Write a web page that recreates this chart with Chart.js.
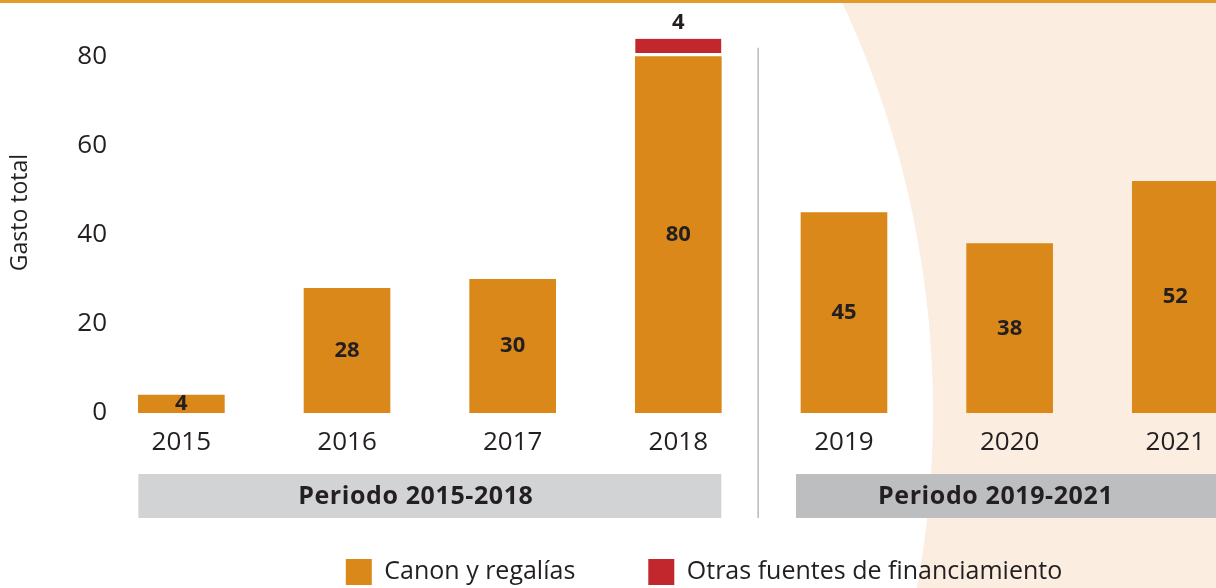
<!DOCTYPE html>
<html>
<head>
<meta charset="utf-8">
<script src="https://cdn.jsdelivr.net/npm/chart.js@4.4.1/dist/chart.umd.min.js"></script>
<style>
  html, body { margin: 0; padding: 0; background: #fff; overflow: hidden; }
  #wrap { width: 1290px; height: 595px; }
</style>
</head>
<body>
<div id="wrap"><canvas id="gasto" width="1290" height="595"></canvas></div>
<script>
var years = ["2015", "2016", "2017", "2018", "2019", "2020", "2021"];
var canon = [4, 28, 30, 80, 45, 38, 52];
var otras = [null, null, null, 4, null, null, null];
var yTicks = [0, 20, 40, 60, 80];
var periodos = [
    { label: "Periodo 2015-2018", from: 0, to: 3 },
    { label: "Periodo 2019-2021", from: 4, to: 6 }
];

Chart.defaults.font.family = "'Open Sans', sans-serif";
Chart.defaults.color = "#231f20";

// fondo, franjas de periodo y linea separadora
var fondo = {
    id: "fondo",
    beforeDraw: function (chart) {
        var c = chart.ctx, x = chart.scales.x, y = chart.scales.y, area = chart.chartArea;
        c.save();
        c.fillStyle = "#fbeee1";
        c.fillRect(0, 0, chart.width, chart.height);
        c.fillStyle = "#ffffff";
        c.beginPath();
        c.arc(-36, 412, 969, 0, Math.PI * 2);
        c.fill();
        c.fillStyle = "#e39a2d";
        c.fillRect(0, 0, chart.width, 3);

        var top = area.bottom + 61;
        c.font = "bold 25px 'Open Sans'";
        c.letterSpacing = "0.6px";
        c.textAlign = "center";
        c.textBaseline = "middle";
        periodos.forEach(function (p, k) {
            var l = x.getPixelForValue(p.from) - (k ? 48 : 43);
            var r = x.getPixelForValue(p.to) + (k ? 60 : 43);
            c.fillStyle = k ? "#bcbec0" : "#d1d3d4";
            c.fillRect(l, top, r - l, 44);
            c.fillStyle = "#231f20";
            var mid = (x.getPixelForValue(p.from) + x.getPixelForValue(p.to)) / 2 - 14;
            c.fillText(p.label, mid, top + 23);
        });
        c.letterSpacing = "0px";

        var sx = (x.getPixelForValue(3) + x.getPixelForValue(4)) / 2 - 3;
        c.strokeStyle = "#b8b9bb";
        c.lineWidth = 1.5;
        c.beginPath();
        c.moveTo(sx, y.getPixelForValue(82));
        c.lineTo(sx, top + 44);
        c.stroke();
        c.restore();
    }
};

// valores sobre las barras
var etiquetas = {
    id: "etiquetas",
    afterDatasetsDraw: function (chart) {
        var c = chart.ctx;
        c.save();
        c.font = "bold 22px 'Open Sans'";
        c.fillStyle = "#231f20";
        c.textAlign = "center";
        c.textBaseline = "middle";
        chart.data.datasets.forEach(function (ds, d) {
            chart.getDatasetMeta(d).data.forEach(function (bar, i) {
                var v = ds.data[i].y;
                if (v == null) return;
                var ty = d === 0 ? (bar.y + bar.base) / 2 : bar.y - 16;
                c.fillText(v, bar.x, ty);
            });
        });
        c.restore();
    }
};

var ctx = document.getElementById("gasto");
var chart = new Chart(ctx, {
    type: "bar",
    data: {
        datasets: [{
                label: "Canon y regalías",
                backgroundColor: "#d98819",
                stack: "total",
                data: canon.map(function (v, i) { return { x: i, y: v }; })
            },
            {
                label: "Otras fuentes de financiamiento",
                backgroundColor: "#c1272d",
                borderColor: "#ffffff",
                borderWidth: { top: 0, left: 0, right: 0, bottom: 4 },
                borderSkipped: false,
                stack: "total",
                data: otras.map(function (v, i) { return { x: i, y: v }; })
            }
        ]
    },
    options: {
        responsive: false,
        animation: false,
        barThickness: 86,
        layout: { padding: { top: 12, right: 12, left: 0, bottom: 0 } },
        plugins: {
            tooltip: { enabled: false },
            legend: {
                position: "bottom",
                fullSize: false,
                labels: {
                    boxWidth: 26,
                    boxHeight: 26,
                    padding: 73,
                    font: { size: 25 },
                    generateLabels: function (chart) {
                        return Chart.defaults.plugins.legend.labels.generateLabels(chart).map(function (it) {
                            it.lineWidth = 0;
                            return it;
                        });
                    }
                }
            }
        },
        scales: {
            x: {
                type: "linear",
                offset: false,
                min: -0.31,
                max: 6.62,
                grid: { display: false, drawTicks: false },
                border: { display: false },
                afterBuildTicks: function (s) {
                    s.ticks = years.map(function (_, i) { return { value: i }; });
                },
                afterFit: function (s) {
                    s.height = 73;
                    s.paddingLeft = 0;
                    s.paddingRight = 0;
                },
                ticks: {
                    autoSkip: false,
                    maxRotation: 0,
                    padding: 14,
                    font: { size: 26 },
                    callback: function (v) { return years[v]; }
                }
            },
            y: {
                min: 0,
                max: 90,
                grid: { display: false, drawTicks: false },
                border: { display: false },
                afterBuildTicks: function (s) {
                    s.ticks = yTicks.map(function (v) { return { value: v }; });
                },
                afterFit: function (s) {
                    s.width = 130;
                    s.paddingTop = 0;
                    s.paddingBottom = 0;
                },
                ticks: { padding: 23, font: { size: 26 } },
                title: {
                    display: true,
                    text: "Gasto total",
                    font: { size: 23 },
                    padding: { top: 7, bottom: 0 }
                }
            }
        }
    },
    plugins: [fondo, etiquetas]
});
</script>
</body>
</html>
